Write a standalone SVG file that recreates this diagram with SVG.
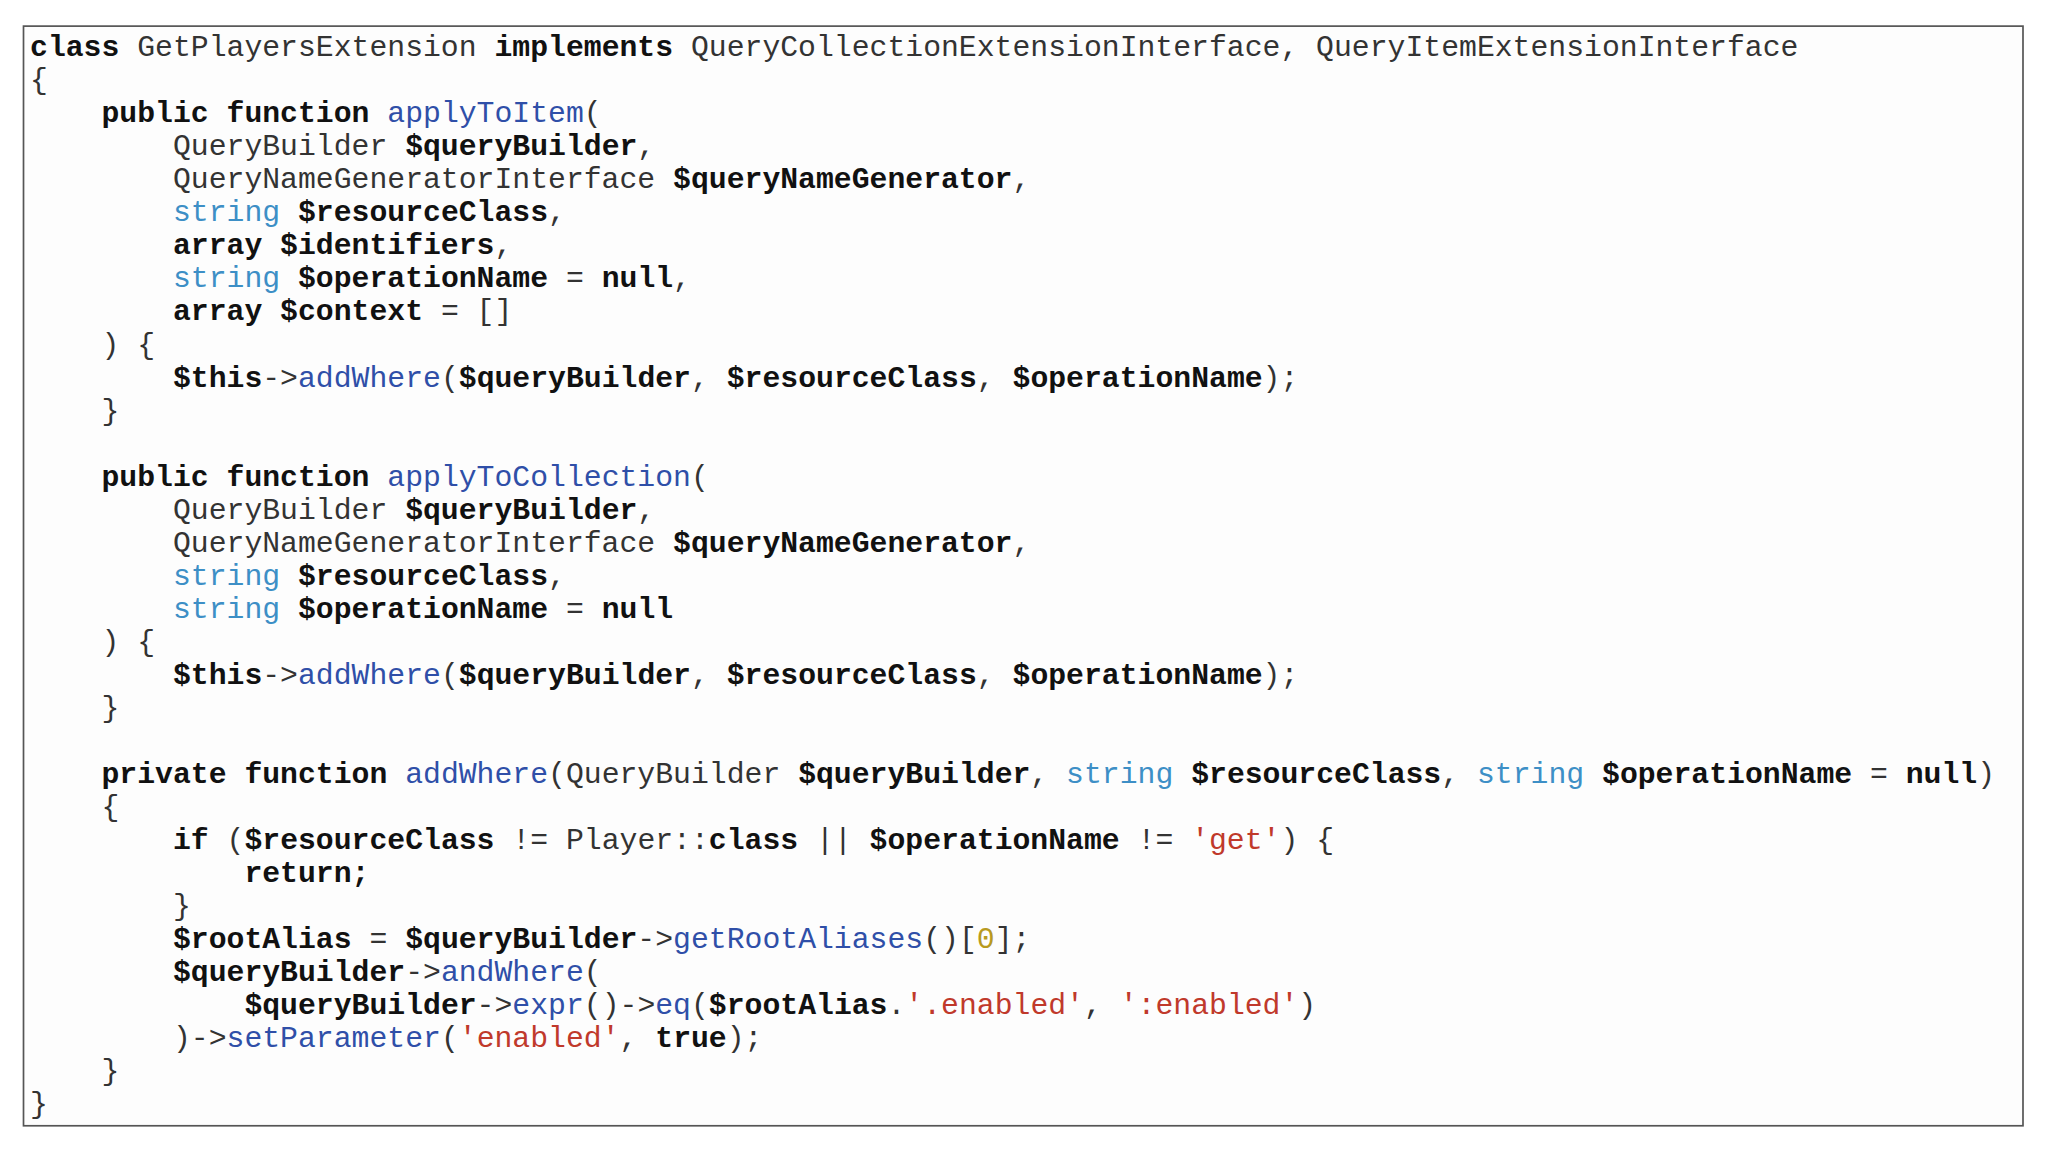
<svg xmlns="http://www.w3.org/2000/svg" width="2048" height="1152" viewBox="0 0 2048 1152">
<style>
text{font-family:"Liberation Mono","Courier New",monospace;font-size:22.8px;fill:#333;white-space:pre}
.k{font-weight:bold;fill:#111}
.f{fill:#2f4fa8}
.t{fill:#3d8fc6}
.s{fill:#c0392b}
.m{fill:#b89a20}
</style>
<rect width="2048" height="1152" fill="#fff"/>
<g id="code" transform="scale(1.306)">
<rect x="18" y="20" width="1531" height="842" fill="#fdfdfd" stroke="#555" stroke-width="1.3"/>
<text x="23" y="43" xml:space="preserve"><tspan class="k">class</tspan> GetPlayersExtension <tspan class="k">implements</tspan> QueryCollectionExtensionInterface, QueryItemExtensionInterface</text>
<text x="23" y="68.3" xml:space="preserve">{</text>
<text x="23" y="93.6" xml:space="preserve">    <tspan class="k">public function</tspan> <tspan class="f">applyToItem</tspan>(</text>
<text x="23" y="118.9" xml:space="preserve">        QueryBuilder <tspan class="k">$queryBuilder</tspan>,</text>
<text x="23" y="144.2" xml:space="preserve">        QueryNameGeneratorInterface <tspan class="k">$queryNameGenerator</tspan>,</text>
<text x="23" y="169.5" xml:space="preserve">        <tspan class="t">string</tspan> <tspan class="k">$resourceClass</tspan>,</text>
<text x="23" y="194.8" xml:space="preserve">        <tspan class="k">array $identifiers</tspan>,</text>
<text x="23" y="220.1" xml:space="preserve">        <tspan class="t">string</tspan> <tspan class="k">$operationName</tspan> = <tspan class="k">null</tspan>,</text>
<text x="23" y="245.4" xml:space="preserve">        <tspan class="k">array $context</tspan> = []</text>
<text x="23" y="270.7" xml:space="preserve">    ) {</text>
<text x="23" y="296" xml:space="preserve">        <tspan class="k">$this</tspan>-&gt;<tspan class="f">addWhere</tspan>(<tspan class="k">$queryBuilder</tspan>, <tspan class="k">$resourceClass</tspan>, <tspan class="k">$operationName</tspan>);</text>
<text x="23" y="321.3" xml:space="preserve">    }</text>
<text x="23" y="371.9" xml:space="preserve">    <tspan class="k">public function</tspan> <tspan class="f">applyToCollection</tspan>(</text>
<text x="23" y="397.2" xml:space="preserve">        QueryBuilder <tspan class="k">$queryBuilder</tspan>,</text>
<text x="23" y="422.5" xml:space="preserve">        QueryNameGeneratorInterface <tspan class="k">$queryNameGenerator</tspan>,</text>
<text x="23" y="447.8" xml:space="preserve">        <tspan class="t">string</tspan> <tspan class="k">$resourceClass</tspan>,</text>
<text x="23" y="473.1" xml:space="preserve">        <tspan class="t">string</tspan> <tspan class="k">$operationName</tspan> = <tspan class="k">null</tspan></text>
<text x="23" y="498.4" xml:space="preserve">    ) {</text>
<text x="23" y="523.7" xml:space="preserve">        <tspan class="k">$this</tspan>-&gt;<tspan class="f">addWhere</tspan>(<tspan class="k">$queryBuilder</tspan>, <tspan class="k">$resourceClass</tspan>, <tspan class="k">$operationName</tspan>);</text>
<text x="23" y="549" xml:space="preserve">    }</text>
<text x="23" y="599.6" xml:space="preserve">    <tspan class="k">private function</tspan> <tspan class="f">addWhere</tspan>(QueryBuilder <tspan class="k">$queryBuilder</tspan>, <tspan class="t">string</tspan> <tspan class="k">$resourceClass</tspan>, <tspan class="t">string</tspan> <tspan class="k">$operationName</tspan> = <tspan class="k">null</tspan>)</text>
<text x="23" y="624.9" xml:space="preserve">    {</text>
<text x="23" y="650.2" xml:space="preserve">        <tspan class="k">if</tspan> (<tspan class="k">$resourceClass</tspan> != Player::<tspan class="k">class</tspan> || <tspan class="k">$operationName</tspan> != <tspan class="s">'get'</tspan>) {</text>
<text x="23" y="675.5" xml:space="preserve">            <tspan class="k">return;</tspan></text>
<text x="23" y="700.8" xml:space="preserve">        }</text>
<text x="23" y="726.1" xml:space="preserve">        <tspan class="k">$rootAlias</tspan> = <tspan class="k">$queryBuilder</tspan>-&gt;<tspan class="f">getRootAliases</tspan>()[<tspan class="m">0</tspan>];</text>
<text x="23" y="751.4" xml:space="preserve">        <tspan class="k">$queryBuilder</tspan>-&gt;<tspan class="f">andWhere</tspan>(</text>
<text x="23" y="776.7" xml:space="preserve">            <tspan class="k">$queryBuilder</tspan>-&gt;<tspan class="f">expr</tspan>()-&gt;<tspan class="f">eq</tspan>(<tspan class="k">$rootAlias</tspan>.<tspan class="s">'.enabled'</tspan>, <tspan class="s">':enabled'</tspan>)</text>
<text x="23" y="802" xml:space="preserve">        )-&gt;<tspan class="f">setParameter</tspan>(<tspan class="s">'enabled'</tspan>, <tspan class="k">true</tspan>);</text>
<text x="23" y="827.3" xml:space="preserve">    }</text>
<text x="23" y="852.6" xml:space="preserve">}</text>
</g>
</svg>
